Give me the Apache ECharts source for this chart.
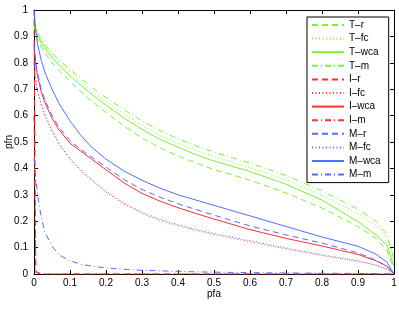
<!DOCTYPE html>
<html><head><meta charset="utf-8">
<script src="https://cdn.jsdelivr.net/npm/echarts@6/dist/echarts.min.js"></script>
<style>html,body{margin:0;padding:0;background:#fff}#c{width:399px;height:309px}</style>
</head><body><div id="c"></div>
<script>
var pfa   = [0, 0.005, 0.01, 0.02, 0.03, 0.05, 0.07, 0.1, 0.13, 0.16, 0.2, 0.25, 0.3, 0.35, 0.4, 0.45, 0.5, 0.6, 0.7, 0.8, 0.9, 0.95, 0.98, 1];
var xTicks = ['0','0.1','0.2','0.3','0.4','0.5','0.6','0.7','0.8','0.9','1'];
var T_r   = [0.94, 0.91, 0.89, 0.86, 0.838, 0.80, 0.77, 0.73, 0.69, 0.655, 0.612, 0.56, 0.515, 0.478, 0.447, 0.42, 0.396, 0.355, 0.307, 0.25, 0.18, 0.135, 0.09, 0.02];
var T_fc  = [0.95, 0.93, 0.91, 0.882, 0.862, 0.83, 0.80, 0.762, 0.727, 0.693, 0.653, 0.605, 0.562, 0.525, 0.495, 0.468, 0.445, 0.403, 0.357, 0.298, 0.228, 0.185, 0.135, 0.05];
var T_wca = [0.95, 0.925, 0.905, 0.875, 0.855, 0.82, 0.79, 0.75, 0.715, 0.68, 0.64, 0.59, 0.548, 0.51, 0.48, 0.452, 0.428, 0.388, 0.34, 0.28, 0.198, 0.148, 0.11, 0.03];
var T_m   = [0.96, 0.935, 0.915, 0.888, 0.868, 0.838, 0.81, 0.775, 0.74, 0.707, 0.668, 0.622, 0.58, 0.543, 0.512, 0.485, 0.462, 0.42, 0.373, 0.315, 0.245, 0.20, 0.15, 0.06];
var I_r   = [1.0, 0.01, 0.003, 0, 0, 0, 0, 0, 0, 0, 0, 0, 0, 0, 0, 0, 0, 0, 0, 0, 0, 0, 0, 0];
var I_fc  = [0.80, 0.73, 0.69, 0.64, 0.60, 0.54, 0.49, 0.435, 0.39, 0.355, 0.31, 0.265, 0.23, 0.203, 0.183, 0.165, 0.15, 0.122, 0.095, 0.07, 0.048, 0.033, 0.018, 0];
var I_wca = [0.86, 0.79, 0.75, 0.69, 0.65, 0.59, 0.545, 0.495, 0.465, 0.435, 0.395, 0.345, 0.305, 0.276, 0.251, 0.229, 0.208, 0.168, 0.135, 0.106, 0.074, 0.05, 0.03, 0];
var I_m   = [0.60, 0.005, 0.002, 0, 0, 0, 0, 0, 0, 0, 0, 0, 0, 0, 0, 0, 0, 0, 0, 0, 0, 0, 0, 0];
var M_r   = [0.87, 0.80, 0.76, 0.70, 0.66, 0.60, 0.555, 0.505, 0.472, 0.443, 0.405, 0.358, 0.32, 0.291, 0.266, 0.244, 0.223, 0.182, 0.148, 0.117, 0.08, 0.052, 0.03, 0];
var M_fc  = [0.81, 0.735, 0.695, 0.645, 0.605, 0.545, 0.494, 0.439, 0.394, 0.359, 0.314, 0.269, 0.234, 0.207, 0.187, 0.169, 0.154, 0.126, 0.099, 0.073, 0.05, 0.034, 0.019, 0];
var M_wca = [1.0, 0.92, 0.87, 0.81, 0.765, 0.70, 0.645, 0.58, 0.525, 0.48, 0.435, 0.39, 0.355, 0.325, 0.30, 0.28, 0.26, 0.22, 0.18, 0.14, 0.105, 0.075, 0.045, 0];
var M_m   = [0.44, 0.36, 0.30, 0.215, 0.16, 0.105, 0.072, 0.05, 0.037, 0.03, 0.023, 0.018, 0.014, 0.012, 0.01, 0.008, 0.007, 0.005, 0.004, 0.003, 0.002, 0.001, 0.0005, 0];

var G = '#78f530', R = '#ff3030', B = '#5070ff';
var DASH = [6, 4], DOT = [1, 2.5], DASHDOT = [6, 3, 1, 3];
var specs = [
  ['T\u2013r', T_r, G, DASH], ['T\u2013fc', T_fc, G, DOT], ['T\u2013wca', T_wca, G, 'solid'], ['T\u2013m', T_m, G, DASHDOT],
  ['I\u2013r', I_r, R, DASH], ['I\u2013fc', I_fc, R, DOT], ['I\u2013wca', I_wca, R, 'solid'], ['I\u2013m', I_m, R, DASHDOT],
  ['M\u2013r', M_r, B, DASH], ['M\u2013fc', M_fc, B, DOT], ['M\u2013wca', M_wca, B, 'solid'], ['M\u2013m', M_m, B, DASHDOT]
];
function pts(v){ return pfa.map(function(x,i){ return [x, v[i]]; }); }
var series = specs.map(function(s){
  return { name: s[0], type: 'line', data: pts(s[1]), symbol: 'none', showSymbol: false, animation: false,
    lineStyle: { color: s[2], width: 1, type: s[3] }, itemStyle: { color: s[2], opacity: 0 }, clip: true };
});
var font = 'Liberation Sans, Arial, sans-serif';
var axisCommon = {
  type: 'value', min: 0, max: 1, interval: 0.1,
  axisLine: { show: true, onZero: false, lineStyle: { color: '#000', width: 1 } },
  axisTick: { show: true, inside: true, length: 4, lineStyle: { color: '#000' } },
  splitLine: { show: false }
};
function lbl(v){ return xTicks[Math.round(v*10)]; }
var chart = echarts.init(document.getElementById('c'), null, { renderer: 'canvas' });
chart.setOption({
  backgroundColor: '#fff',
  textStyle: { fontFamily: font },
  grid: { left: 34, right: 5, top: 10, bottom: 35, containLabel: false, outerBoundsMode: 'none' },
  xAxis: [
    Object.assign({}, axisCommon, { position: 'bottom', name: 'pfa', nameLocation: 'middle', nameGap: 15, nameMoveOverlap: false,
      nameTextStyle: { fontSize: 10, color: '#000', fontFamily: font },
      axisLabel: { fontSize: 10, color: '#000', margin: 4, fontFamily: font, formatter: lbl } }),
    Object.assign({}, axisCommon, { position: 'top', axisLabel: { show: false } })
  ],
  yAxis: [
    Object.assign({}, axisCommon, { position: 'left', name: 'pfn', nameLocation: 'middle', nameGap: 20, nameMoveOverlap: false,
      nameTextStyle: { fontSize: 10, color: '#000', fontFamily: font },
      axisLabel: { fontSize: 10, color: '#000', margin: 6, fontFamily: font, formatter: lbl } }),
    Object.assign({}, axisCommon, { position: 'right', axisLabel: { show: false } })
  ],
  legend: {
    orient: 'vertical', left: 307, top: 17,
    backgroundColor: '#fff', borderColor: '#000', borderWidth: 1,
    padding: [3, 8, 3, 4], itemWidth: 32, itemHeight: 10, itemGap: 3.6,
    itemStyle: { opacity: 0 },
    textStyle: { fontSize: 10, color: '#000', fontFamily: font },
    data: specs.map(function(s){ return s[0]; })
  },
  series: series
});
</script></body></html>
